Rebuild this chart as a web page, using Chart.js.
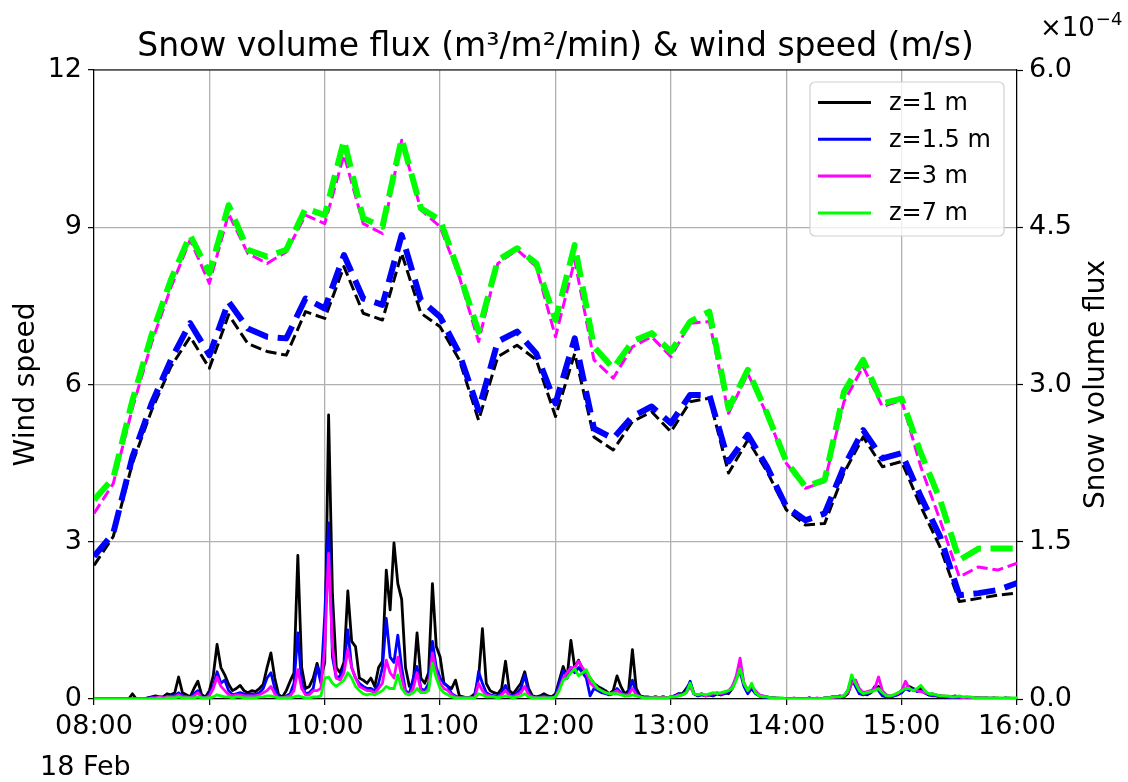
<!DOCTYPE html>
<html>
<head>
<meta charset="utf-8">
<script src="https://cdn.jsdelivr.net/npm/chart.js@4.4.1/dist/chart.umd.min.js"></script>
<style>
  html, body { margin: 0; padding: 0; background: #ffffff; }
  #wrap { width: 1128px; height: 782px; }
</style>
</head>
<body>
<div id="wrap"><canvas id="c" width="1128" height="782"></canvas></div>
<script>
// ---- tick labels and series names ----
const hourLabels = ['08:00', '09:00', '10:00', '11:00', '12:00', '13:00', '14:00', '15:00', '16:00'];
const heightNames = ['z=1 m', 'z=1.5 m', 'z=3 m', 'z=7 m'];
const seriesColors = ['#000000', '#0000ff', '#ff00ff', '#00ff00'];

// Sampling interval of each record, minutes after 08:00
const WIND_STEP_MIN = 10;
const FLUX_STEP_MIN = 2;

// ---- wind speed (m/s), 10-min means 08:00 .. 16:00 ----
const windZ1 = [2.55, 3.10, 4.50, 5.51, 6.34, 6.91, 6.31, 7.33, 6.78, 6.63, 6.56, 7.39,
  7.26, 8.25, 7.36, 7.23, 8.50, 7.36, 7.10, 6.47, 5.32, 6.53, 6.75, 6.47,
  5.39, 6.59, 5.00, 4.75, 5.29, 5.48, 5.10, 5.67, 5.74, 4.31, 4.94, 4.34,
  3.61, 3.32, 3.35, 4.31, 5.00, 4.43, 4.53, 3.67, 2.90, 1.86, 1.92, 1.98, 2.02];
const windZ15 = [2.72, 3.16, 4.62, 5.64, 6.47, 7.17, 6.56, 7.58, 7.07, 6.91, 6.88, 7.64,
  7.45, 8.47, 7.64, 7.52, 8.85, 7.61, 7.29, 6.59, 5.51, 6.82, 7.01, 6.59,
  5.64, 6.88, 5.16, 4.97, 5.39, 5.58, 5.26, 5.80, 5.80, 4.53, 5.04, 4.43,
  3.67, 3.41, 3.54, 4.43, 5.13, 4.59, 4.69, 3.86, 3.10, 1.98, 2.02, 2.08, 2.21];
const windZ3 = [3.54, 4.11, 5.55, 6.80, 7.85, 8.76, 7.93, 9.26, 8.50, 8.31, 8.53, 9.23,
  9.07, 10.38, 9.07, 8.88, 10.66, 9.33, 9.01, 8.05, 6.82, 8.31, 8.57, 8.25,
  6.91, 8.37, 6.47, 6.12, 6.72, 6.91, 6.53, 7.17, 7.20, 5.45, 6.21, 5.42,
  4.50, 4.02, 4.15, 5.67, 6.34, 5.58, 5.70, 4.43, 3.41, 2.33, 2.52, 2.46, 2.59];
const windZ7 = [3.80, 4.21, 5.70, 6.95, 8.00, 8.85, 8.12, 9.42, 8.57, 8.44, 8.57, 9.36,
  9.23, 10.66, 9.17, 9.01, 10.69, 9.36, 9.14, 8.12, 7.01, 8.37, 8.60, 8.31,
  7.23, 8.66, 6.72, 6.31, 6.82, 6.98, 6.63, 7.20, 7.39, 5.54, 6.28, 5.45,
  4.53, 4.05, 4.18, 5.86, 6.47, 5.64, 5.73, 4.69, 3.80, 2.65, 2.87, 2.87, 2.87];

// ---- snow volume flux (x1e-4 m3/m2/min), 2-min records 08:00 .. 16:00 ----
const fluxZ1 = [
  0, 0, 0, 0, 0, 0, 0, 0, 0, 0,
  0.05, 0, 0, 0, 0.01, 0.02, 0.03, 0.02, 0.02, 0.05,
  0.04, 0.06, 0.21, 0.06, 0.04, 0.02, 0.10, 0.17, 0.04, 0.02,
  0.08, 0.22, 0.52, 0.30, 0.23, 0.14, 0.08, 0.10, 0.13, 0.08,
  0.06, 0.08, 0.07, 0.10, 0.14, 0.30, 0.44, 0.20, 0.04, 0.02,
  0.08, 0.17, 0.25, 1.37, 0.30, 0.10, 0.12, 0.20, 0.34, 0.20,
  0.35, 2.71, 1.00, 0.30, 0.25, 0.35, 1.03, 0.55, 0.50, 0.20,
  0.18, 0.15, 0.20, 0.12, 0.30, 0.36, 1.23, 0.85, 1.49, 1.10,
  0.95, 0.30, 0.12, 0.15, 0.63, 0.20, 0.15, 0.25, 1.10, 0.50,
  0.40, 0.15, 0.12, 0.10, 0.18, 0.03, 0.02, 0.01, 0.02, 0.05,
  0.20, 0.67, 0.15, 0.08, 0.06, 0.05, 0.10, 0.36, 0.08, 0.05,
  0.10, 0.15, 0.26, 0.10, 0.03, 0.02, 0.03, 0.05, 0.03, 0.02,
  0.05, 0.18, 0.31, 0.20, 0.56, 0.30, 0.37, 0.28, 0.25, 0.20,
  0.15, 0.12, 0.10, 0.08, 0.05, 0.08, 0.22, 0.12, 0.05, 0.08,
  0.47, 0.10, 0.03, 0.02, 0.02, 0.01, 0.02, 0.01, 0.02, 0.01,
  0.02, 0.03, 0.05, 0.05, 0.10, 0.15, 0.05, 0.03, 0.05, 0.03,
  0.04, 0.03, 0.05, 0.04, 0.06, 0.05, 0.10, 0.20, 0.30, 0.15,
  0.08, 0.10, 0.06, 0.03, 0.02, 0.02, 0.01, 0.01, 0, 0,
  0, 0, 0, 0, 0, 0, 0.01, 0, 0, 0,
  0.01, 0.01, 0.02, 0.02, 0.03, 0.02, 0.05, 0.15, 0.18, 0.08,
  0.05, 0.04, 0.06, 0.10, 0.12, 0.05, 0.03, 0.02, 0.03, 0.05,
  0.08, 0.10, 0.12, 0.10, 0.08, 0.10, 0.06, 0.04, 0.05, 0.03,
  0.03, 0.02, 0.02, 0.02, 0.03, 0.01, 0.01, 0.01, 0.01, 0.01,
  0.01, 0.01, 0.01, 0, 0.01, 0, 0, 0.01, 0, 0,
  0];
const fluxZ15 = [
  0, 0, 0, 0, 0, 0, 0, 0, 0, 0,
  0, 0, 0, 0, 0.01, 0.01, 0.02, 0.02, 0.01, 0.02,
  0.03, 0.03, 0.06, 0.03, 0.02, 0.02, 0.05, 0.08, 0.02, 0.01,
  0.05, 0.12, 0.26, 0.15, 0.18, 0.08, 0.04, 0.05, 0.06, 0.05,
  0.04, 0.05, 0.04, 0.06, 0.10, 0.20, 0.25, 0.10, 0.02, 0.01,
  0.03, 0.05, 0.15, 0.63, 0.15, 0.05, 0.06, 0.10, 0.31, 0.15,
  0.80, 1.68, 0.40, 0.20, 0.22, 0.30, 0.66, 0.30, 0.20, 0.15,
  0.12, 0.10, 0.10, 0.08, 0.15, 0.30, 0.77, 0.40, 0.35, 0.61,
  0.30, 0.08, 0.05, 0.20, 0.31, 0.10, 0.08, 0.15, 0.55, 0.30,
  0.20, 0.15, 0.12, 0.05, 0.03, 0.01, 0.01, 0.01, 0.01, 0.02,
  0.26, 0.15, 0.06, 0.04, 0.03, 0.03, 0.06, 0.13, 0.04, 0.03,
  0.06, 0.10, 0.23, 0.06, 0.02, 0.01, 0.02, 0.03, 0.02, 0.01,
  0.03, 0.15, 0.27, 0.20, 0.30, 0.25, 0.30, 0.25, 0.20, 0.03,
  0.10, 0.08, 0.06, 0.05, 0.04, 0.05, 0.10, 0.06, 0.03, 0.06,
  0.18, 0.05, 0.02, 0.01, 0.01, 0.01, 0.02, 0.01, 0.02, 0.01,
  0.02, 0.03, 0.05, 0.04, 0.08, 0.17, 0.05, 0.03, 0.04, 0.03,
  0.04, 0.03, 0.05, 0.04, 0.05, 0.06, 0.12, 0.20, 0.26, 0.12,
  0.05, 0.10, 0.05, 0.03, 0.02, 0.01, 0.01, 0.01, 0, 0,
  0, 0, 0, 0, 0, 0, 0.01, 0, 0, 0,
  0.01, 0.01, 0.02, 0.02, 0.02, 0.03, 0.08, 0.20, 0.12, 0.05,
  0.04, 0.05, 0.06, 0.12, 0.08, 0.03, 0.02, 0.02, 0.03, 0.04,
  0.06, 0.10, 0.08, 0.10, 0.07, 0.08, 0.06, 0.04, 0.03, 0.03,
  0.02, 0.02, 0.02, 0.01, 0.02, 0.01, 0.01, 0.01, 0.01, 0.01,
  0.01, 0, 0.01, 0, 0.01, 0, 0, 0.01, 0, 0,
  0];
const fluxZ3 = [
  0, 0, 0, 0, 0, 0, 0, 0, 0, 0,
  0, 0, 0, 0, 0, 0.01, 0.01, 0.02, 0.01, 0.02,
  0.02, 0.02, 0.04, 0.02, 0.02, 0.01, 0.03, 0.06, 0.01, 0.01,
  0.03, 0.10, 0.21, 0.12, 0.08, 0.04, 0.03, 0.04, 0.04, 0.03,
  0.03, 0.03, 0.03, 0.04, 0.06, 0.08, 0.12, 0.05, 0.01, 0.01,
  0.02, 0.03, 0.08, 0.28, 0.10, 0.04, 0.04, 0.08, 0.08, 0.10,
  0.50, 1.39, 0.50, 0.20, 0.18, 0.25, 0.47, 0.30, 0.20, 0.12,
  0.10, 0.08, 0.08, 0.06, 0.10, 0.15, 0.37, 0.25, 0.20, 0.40,
  0.20, 0.06, 0.04, 0.10, 0.25, 0.08, 0.06, 0.10, 0.44, 0.25,
  0.15, 0.10, 0.08, 0.04, 0.02, 0.01, 0.01, 0.01, 0.01, 0.01,
  0.15, 0.08, 0.04, 0.03, 0.02, 0.02, 0.04, 0.08, 0.03, 0.02,
  0.04, 0.06, 0.12, 0.04, 0.02, 0.01, 0.01, 0.02, 0.01, 0.01,
  0.02, 0.10, 0.20, 0.25, 0.30, 0.30, 0.36, 0.30, 0.25, 0.15,
  0.12, 0.10, 0.08, 0.06, 0.05, 0.06, 0.08, 0.05, 0.04, 0.04,
  0.10, 0.04, 0.02, 0.01, 0.01, 0.01, 0.02, 0.01, 0.02, 0.01,
  0.02, 0.02, 0.04, 0.04, 0.06, 0.12, 0.05, 0.04, 0.05, 0.03,
  0.04, 0.05, 0.06, 0.05, 0.06, 0.08, 0.12, 0.22, 0.39, 0.15,
  0.08, 0.12, 0.08, 0.04, 0.03, 0.02, 0.01, 0.01, 0.01, 0,
  0, 0, 0.01, 0, 0, 0, 0.01, 0, 0.01, 0,
  0.01, 0.01, 0.01, 0.02, 0.02, 0.03, 0.06, 0.15, 0.18, 0.10,
  0.06, 0.07, 0.08, 0.10, 0.21, 0.08, 0.04, 0.03, 0.04, 0.05,
  0.08, 0.17, 0.10, 0.08, 0.08, 0.07, 0.06, 0.05, 0.04, 0.04,
  0.03, 0.03, 0.02, 0.02, 0.02, 0.02, 0.01, 0.02, 0.01, 0.01,
  0.01, 0.01, 0.01, 0.01, 0.01, 0.01, 0, 0.01, 0.01, 0,
  0];
const fluxZ7 = [
  0, 0, 0, 0, 0, 0, 0, 0, 0, 0,
  0, 0, 0, 0, 0, 0, 0, 0.01, 0, 0.01,
  0.01, 0.01, 0.02, 0.01, 0.01, 0.01, 0.01, 0.02, 0.01, 0.01,
  0.01, 0.02, 0.04, 0.03, 0.02, 0.02, 0.01, 0.02, 0.02, 0.01,
  0.01, 0.01, 0.01, 0.02, 0.02, 0.03, 0.03, 0.02, 0.01, 0.01,
  0.01, 0.01, 0.02, 0.03, 0.02, 0.01, 0.01, 0.02, 0.02, 0.03,
  0.20, 0.21, 0.15, 0.12, 0.15, 0.18, 0.25, 0.20, 0.12, 0.08,
  0.05, 0.04, 0.05, 0.04, 0.06, 0.08, 0.12, 0.10, 0.10, 0.23,
  0.10, 0.05, 0.04, 0.06, 0.10, 0.06, 0.06, 0.08, 0.34, 0.20,
  0.10, 0.06, 0.04, 0.02, 0.01, 0.01, 0.01, 0.01, 0.01, 0.01,
  0.05, 0.04, 0.02, 0.02, 0.02, 0.01, 0.02, 0.03, 0.02, 0.01,
  0.02, 0.03, 0.05, 0.02, 0.01, 0.01, 0.01, 0.01, 0.01, 0.01,
  0.02, 0.08, 0.18, 0.20, 0.25, 0.29, 0.22, 0.25, 0.28, 0.20,
  0.15, 0.10, 0.08, 0.06, 0.05, 0.05, 0.05, 0.04, 0.03, 0.03,
  0.04, 0.03, 0.02, 0.01, 0.01, 0.01, 0.01, 0.01, 0.01, 0.01,
  0.02, 0.02, 0.03, 0.04, 0.06, 0.15, 0.05, 0.04, 0.05, 0.04,
  0.05, 0.06, 0.05, 0.06, 0.07, 0.08, 0.10, 0.18, 0.29, 0.15,
  0.08, 0.15, 0.06, 0.03, 0.02, 0.02, 0.01, 0.01, 0.01, 0.01,
  0, 0, 0, 0, 0, 0, 0, 0, 0, 0,
  0.01, 0.01, 0.02, 0.02, 0.02, 0.03, 0.08, 0.23, 0.15, 0.08,
  0.05, 0.06, 0.07, 0.08, 0.10, 0.06, 0.03, 0.03, 0.04, 0.06,
  0.08, 0.10, 0.10, 0.08, 0.10, 0.13, 0.08, 0.05, 0.05, 0.04,
  0.03, 0.03, 0.03, 0.02, 0.02, 0.03, 0.02, 0.02, 0.02, 0.01,
  0.01, 0.01, 0.01, 0.01, 0.01, 0.01, 0.01, 0.01, 0.01, 0.01,
  0.01];

// ---- build datasets ----
const FONT = '"DejaVu Sans", "Liberation Sans", sans-serif';
const toPoints = (vals, step) => vals.map((v, i) => ({ x: i * step, y: v }));

const windSeries = [windZ1, windZ15, windZ3, windZ7];
const fluxSeries = [fluxZ1, fluxZ15, fluxZ3, fluxZ7];
const windWidths = [3, 6, 3, 6];

const datasets = [];
fluxSeries.forEach((vals, i) => {
  datasets.push({
    label: heightNames[i],
    kind: 'flux',
    data: toPoints(vals, FLUX_STEP_MIN),
    yAxisID: 'yR',
    borderColor: seriesColors[i],
    borderWidth: 2.8,
    borderJoinStyle: 'round',
    pointRadius: 0,
    tension: 0,
    fill: false,
    order: 4 - i
  });
});
windSeries.forEach((vals, i) => {
  const w = windWidths[i];
  datasets.push({
    label: heightNames[i] + ' wind',
    kind: 'wind',
    data: toPoints(vals, WIND_STEP_MIN),
    yAxisID: 'yL',
    borderColor: seriesColors[i],
    borderWidth: w,
    borderDash: [3.7 * w, 1.6 * w],
    borderCapStyle: 'butt',
    borderJoinStyle: 'round',
    pointRadius: 0,
    tension: 0,
    fill: false,
    order: 8 - i
  });
});

// ---- titles, frame, offset label and legend ----
const decor = {
  id: 'decor',
  afterDraw(chart) {
    const { ctx, chartArea: a } = chart;
    ctx.save();

    // top spine
    ctx.strokeStyle = '#000000';
    ctx.lineWidth = 1.2;
    ctx.beginPath();
    ctx.moveTo(a.left, a.top);
    ctx.lineTo(a.right, a.top);
    ctx.stroke();

    ctx.fillStyle = '#000000';
    // title
    ctx.font = '33px ' + FONT;
    ctx.textAlign = 'center';
    ctx.textBaseline = 'middle';
    ctx.fillText('Snow volume flux (m\u00b3/m\u00b2/min) & wind speed (m/s)', (a.left + a.right) / 2, 47);

    // axis titles
    ctx.font = '28px ' + FONT;
    ctx.save();
    ctx.translate(27, (a.top + a.bottom) / 2);
    ctx.rotate(-Math.PI / 2);
    ctx.fillText('Wind speed', 0, 0);
    ctx.restore();
    ctx.save();
    ctx.translate(1097, (a.top + a.bottom) / 2);
    ctx.rotate(-Math.PI / 2);
    ctx.fillText('Snow volume flux', 0, 0);
    ctx.restore();

    // offset label of the flux axis
    ctx.textAlign = 'left';
    ctx.font = '26px ' + FONT;
    ctx.fillText('\u00d710', 1040, 29);
    const w10 = ctx.measureText('\u00d710').width;
    ctx.font = '18px ' + FONT;
    ctx.fillText('\u22124', 1040 + w10 + 1, 20);

    // date under the time axis
    ctx.font = '27px ' + FONT;
    ctx.fillText('18 Feb', 40, 768);

    // legend (flux series)
    const bx = 810, by = 82, bw = 194, bh = 154, r = 5;
    ctx.beginPath();
    ctx.moveTo(bx + r, by);
    ctx.arcTo(bx + bw, by, bx + bw, by + bh, r);
    ctx.arcTo(bx + bw, by + bh, bx, by + bh, r);
    ctx.arcTo(bx, by + bh, bx, by, r);
    ctx.arcTo(bx, by, bx + bw, by, r);
    ctx.closePath();
    ctx.fillStyle = 'rgba(255,255,255,0.8)';
    ctx.fill();
    ctx.strokeStyle = '#d0d0d0';
    ctx.lineWidth = 1.2;
    ctx.stroke();

    ctx.font = '24px ' + FONT;
    ctx.textBaseline = 'middle';
    chart.data.datasets.filter(d => d.kind === 'flux').forEach((d, i) => {
      const y = 102.5 + i * 36.8;
      ctx.strokeStyle = d.borderColor;
      ctx.lineWidth = 3;
      ctx.beginPath();
      ctx.moveTo(818, y);
      ctx.lineTo(871, y);
      ctx.stroke();
      ctx.fillStyle = '#000000';
      ctx.fillText(d.label, 889, y + 1);
    });
    ctx.restore();
  }
};

const GRID = '#b0b0b0';
new Chart(document.getElementById('c'), {
  type: 'line',
  data: { datasets },
  plugins: [decor],
  options: {
    responsive: false,
    animation: false,
    devicePixelRatio: 1,
    parsing: false,
    layout: { padding: { top: 70, left: 0, right: 0, bottom: 0 } },
    plugins: { legend: { display: false }, title: { display: false }, tooltip: { enabled: false } },
    scales: {
      x: {
        type: 'linear',
        min: 0,
        max: 480,
        afterFit: s => { s.height = 83; },
        afterBuildTicks: s => { s.ticks = hourLabels.map((_, i) => ({ value: i * 60 })); },
        ticks: {
          callback: v => hourLabels[Math.round(v / 60)],
          color: '#000000',
          font: { family: FONT, size: 27 },
          padding: 6,
          maxRotation: 0,
          autoSkip: false
        },
        grid: { color: GRID, lineWidth: 1.3, tickColor: '#000000', tickLength: 6, tickWidth: 1.2 },
        border: { color: '#000000', width: 1.2 }
      },
      yL: {
        type: 'linear',
        position: 'left',
        min: 0,
        max: 12,
        afterFit: s => { s.width = 94; },
        ticks: {
          stepSize: 3,
          callback: v => String(v),
          color: '#000000',
          font: { family: FONT, size: 27 },
          padding: 6
        },
        grid: { color: GRID, lineWidth: 1.3, tickColor: '#000000', tickLength: 6, tickWidth: 1.2 },
        border: { color: '#000000', width: 1.2 }
      },
      yR: {
        type: 'linear',
        position: 'right',
        min: 0,
        max: 6,
        afterFit: s => { s.width = 111; },
        ticks: {
          stepSize: 1.5,
          callback: v => v.toFixed(1),
          color: '#000000',
          font: { family: FONT, size: 27 },
          padding: 6
        },
        grid: { drawOnChartArea: false, tickColor: '#000000', tickLength: 6, tickWidth: 1.2 },
        border: { color: '#000000', width: 1.2 }
      }
    }
  }
});
</script>
</body>
</html>
